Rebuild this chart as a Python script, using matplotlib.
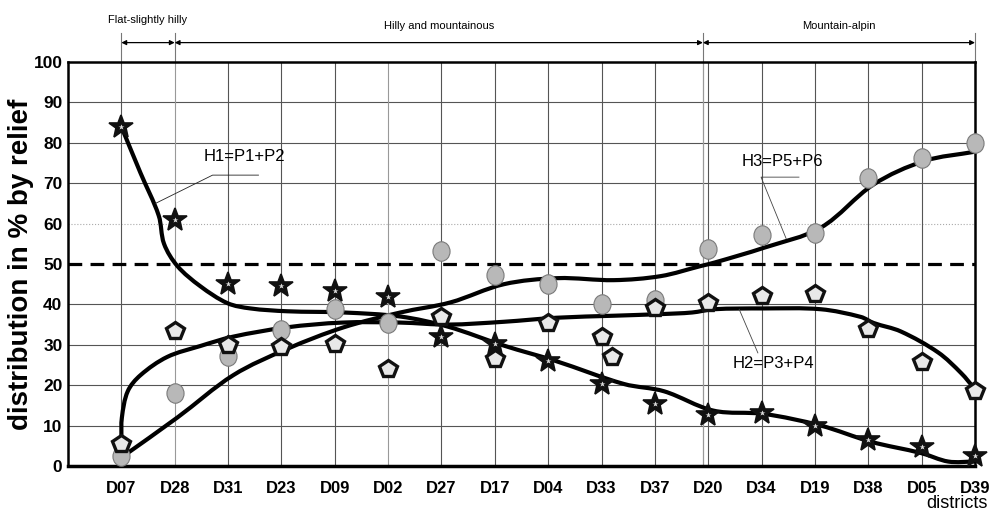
import numpy as np
import matplotlib.pyplot as plt
from matplotlib.path import Path
from matplotlib.patches import PathPatch

plt.rcParams['font.family'] = ['Liberation Sans', 'DejaVu Sans']

# districts along the x axis
districts = ['D07', 'D28', 'D31', 'D23', 'D09', 'D02', 'D27', 'D17', 'D04',
             'D33', 'D37', 'D20', 'D34', 'D19', 'D38', 'D05', 'D39']

# measured shares (%) per district
h1_vals = [84, 61, 45, 44.5, 43.3, 41.8, 32, 30.2, 26, 20.3, 15.3, 12.6, 13.1, 10, 6.4, 4.7, 2.5]
h2_vals = [5.5, 33.4, 30, 29.5, 30.2, 24, 37, 26.6, 35.5, 32, 39, 40.4, 42, 42.5, 34, 25.7, 18.5]
h3_vals = [2.5, 18, 27.3, 33.7, 38.8, 35.5, 53.3, 47.3, 45, 40, 41, 53.7, 57.2, 57.6, 71.3, 76.2, 80]
h2_extra_x = [9.2]
h2_extra = [27]

# trend curves (knots, x in district index units)
h1_curve_x = [0, 0.36, 0.7, 0.8, 1.05, 1.48, 1.99, 2.42, 3.11, 4.16, 5.23, 6.12, 7.17,
              8.14, 9.42, 10.17, 11.1, 12.04, 13.11, 14.05, 14.99, 15.5, 16]
h1_curve_y = [84, 72.5, 62, 55, 49.5, 44.5, 40.3, 39, 38.3, 38, 37, 34.5, 29.8,
              26, 20.3, 18.5, 13.7, 12.9, 10, 6, 3.2, 1.1, 1.1]
h2_curve_x = [0, 0.01, 0.12, 0.36, 0.86, 1.48, 2.09, 3.09, 4.14, 5.23, 6.12, 7.17, 8.16,
              9.24, 10.11, 10.7, 11.1, 12.04, 13.11, 13.86, 14.1, 14.61, 15.31, 15.74, 16]
h2_curve_y = [6.8, 12, 18.5, 22.5, 27, 29.7, 32, 34.3, 35.5, 35.5, 35, 35.7, 36.7,
              37.2, 37.6, 38, 38.8, 39, 38.8, 36.9, 35.4, 33.3, 28.1, 23, 19]
h3_curve_x = [0, 1.05, 2.1, 3.11, 4.16, 5.23, 6.17, 7.17, 8.18, 9.23, 10.11, 10.86,
              11.13, 12.04, 13.11, 14.1, 15.05, 16]
h3_curve_y = [2.1, 12, 22.5, 29, 34.3, 38, 40.5, 45, 46.5, 46, 47, 49.5,
              50.4, 54, 59, 69.7, 75.5, 77.8]

# relief zones: (label, start, end)
zone_names = ['Flat-slightly hilly', 'Hilly and mountainous', 'Mountain-alpin']
zone_edges = [0, 1, 10.9, 16]


def smooth_path(ax, xs, ys):
    # smooth curve through the knots, built in screen space so uneven
    # knot spacing doesn't make loops, then mapped back to data
    p = ax.transData.transform(np.column_stack([xs, ys]))
    n = len(p)
    tang = np.zeros_like(p)
    for i in range(n):
        d = p[min(i + 1, n - 1)] - p[max(i - 1, 0)]
        tang[i] = d / np.hypot(*d)
    verts = [p[0]]
    codes = [Path.MOVETO]
    for i in range(n - 1):
        L = np.hypot(*(p[i + 1] - p[i]))
        verts += [p[i] + tang[i] * L / 3, p[i + 1] - tang[i + 1] * L / 3, p[i + 1]]
        codes += [Path.CURVE4] * 3
    verts = ax.transData.inverted().transform(np.array(verts))
    return Path(verts, codes)


fig = plt.figure(figsize=(9.91, 5.12), dpi=100)
ax = fig.add_axes([68 / 991, 46 / 512, 907 / 991, 404 / 512])

x = np.arange(len(districts))
ax.set_xlim(-1, 16)
ax.set_ylim(0, 100)

# grid
for v in range(10, 100, 10):
    if v == 60:
        ax.axhline(v, color='#aaaaaa', lw=0.8, ls=':', zorder=1)
    elif v != 50:
        ax.axhline(v, color='#555555', lw=0.8, zorder=1)
for i in x:
    c = '#999999' if districts[i] in ('D28', 'D02') else '#555555'
    ax.axvline(i, color=c, lw=0.8, zorder=1)
ax.axvline(zone_edges[2], color='#999999', lw=0.9, zorder=1)
ax.axhline(50, color='black', lw=2.3, dashes=(4.3, 2.6), zorder=2)

# trend curves
for cx, cy in [(h1_curve_x, h1_curve_y), (h2_curve_x, h2_curve_y), (h3_curve_x, h3_curve_y)]:
    ax.add_patch(PathPatch(smooth_path(ax, cx, cy), fill=False, ec='black', lw=3,
                           capstyle='round', joinstyle='round', zorder=3))

# markers
circ = Path.unit_circle()
ellipse = Path(circ.vertices * np.array([0.88, 1.0]), circ.codes)
ax.plot(x, h3_vals, ls='none', marker=ellipse, ms=14, mfc='#b8b8b8', mec='#7a7a7a',
        mew=0.8, zorder=4, clip_on=False)
ax.plot(list(x) + h2_extra_x, h2_vals + h2_extra, ls='none', marker='p', ms=13,
        mfc='#e8e8e8', mec='#111111', mew=2.4, zorder=5, clip_on=False)
ax.plot(x, h1_vals, ls='none', marker='*', ms=18, mfc='#111111', mec='#111111',
        mew=1.2, zorder=6, clip_on=False)
ax.plot(x, h1_vals, ls='none', marker='*', ms=4, mfc='#dddddd', mec='none',
        zorder=7, clip_on=False)

# curve labels with leader lines
ax.plot([0.64, 1.71, 2.57], [65, 72, 72], color='#222222', lw=0.6, zorder=3)
ax.text(1.55, 76.5, 'H1=P1+P2', fontsize=12, ha='left', va='center')
ax.plot([12.46, 11.99, 12.7], [56.3, 71.5, 71.5], color='#444444', lw=0.6, zorder=3)
ax.text(11.63, 75.3, 'H3=P5+P6', fontsize=12, ha='left', va='center')
ax.plot([11.58, 11.93], [38.8, 28], color='#444444', lw=0.6, zorder=3)
ax.text(11.46, 25.3, 'H2=P3+P4', fontsize=12, ha='left', va='center')

# relief zones above the plot
for xe in zone_edges:
    ax.plot([xe, xe], [100, 107.3], color='#777777', lw=0.8, clip_on=False)
text_y = [110.3, 108.9, 108.9]
for k, name in enumerate(zone_names):
    a, b = zone_edges[k], zone_edges[k + 1]
    ax.annotate('', xy=(a, 104.8), xytext=(b, 104.8), xycoords='data',
                arrowprops=dict(arrowstyle='<|-|>', color='black', lw=0.9,
                                mutation_scale=7, shrinkA=0, shrinkB=0),
                annotation_clip=False)
    ax.text((a + b) / 2, text_y[k], name, fontsize=8, ha='center', va='center')

# axes
ax.set_xticks(x)
ax.set_xticklabels(districts, fontsize=12, fontweight='bold')
ax.set_yticks(range(0, 101, 10))
ax.set_yticklabels([str(v) for v in range(0, 101, 10)], fontsize=12.5, fontweight='bold')
ax.tick_params(axis='x', length=0, pad=11)
ax.tick_params(axis='y', length=0, pad=4)
for s in ['left', 'top', 'right']:
    ax.spines[s].set_linewidth(1.8)
ax.spines['bottom'].set_linewidth(2.5)
ax.set_ylabel('distribution in % by relief', fontsize=20, fontweight='bold')
ax.yaxis.set_label_coords(-0.038, 0.5)
fig.text(988 / 991, 1 - 503 / 512, 'districts', fontsize=13, ha='right', va='center')

fig.savefig('out.png', dpi=100)
